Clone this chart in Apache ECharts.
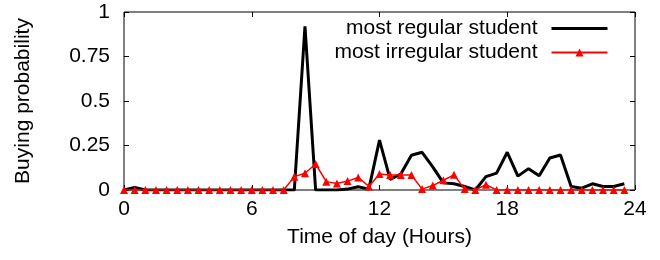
<!DOCTYPE html>
<html>
<head>
<meta charset="utf-8">
<script src="https://cdn.jsdelivr.net/npm/echarts@6/dist/echarts.min.js"></script>
<style>
  html, body { margin: 0; padding: 0; background: #fff; }
  #chart { width: 660px; height: 260px; }
</style>
</head>
<body>
<div id="chart"></div>
<script>
// time of day, half-hour slots
const hours = [0, 0.5, 1, 1.5, 2, 2.5, 3, 3.5, 4, 4.5, 5, 5.5, 6, 6.5, 7, 7.5,
  8, 8.5, 9, 9.5, 10, 10.5, 11, 11.5, 12, 12.5, 13, 13.5, 14, 14.5, 15, 15.5,
  16, 16.5, 17, 17.5, 18, 18.5, 19, 19.5, 20, 20.5, 21, 21.5, 22, 22.5, 23, 23.5];

const regularStudent = [0, 0.015, 0, 0, 0, 0, 0, 0, 0, 0, 0, 0, 0, 0, 0, 0,
  0, 0.92, 0, 0, 0, 0.005, 0.018, 0.005, 0.28, 0.06, 0.09, 0.195, 0.212, 0.13, 0.04, 0.035,
  0.02, 0, 0.075, 0.095, 0.212, 0.078, 0.12, 0.08, 0.18, 0.197, 0.02, 0.01, 0.035, 0.02, 0.02, 0.035];

const irregularStudent = [0, 0, 0, 0, 0, 0, 0, 0, 0, 0, 0, 0, 0, 0, 0, 0,
  0.075, 0.094, 0.146, 0.047, 0.037, 0.05, 0.07, 0.02, 0.09, 0.084, 0.084, 0.084, 0.005, 0.025, 0.055, 0.085,
  0.005, 0, 0.03, 0, 0, 0, 0, 0, 0, 0, 0, 0, 0, 0, 0, 0];

const xTicks = [0, 6, 12, 18, 24];
const yTicks = [0, 0.25, 0.5, 0.75, 1];

const font = "'Liberation Sans', Arial, sans-serif";
const fs = 21;
const pairs = vals => hours.map((h, i) => [h, vals[i]]);

const chart = echarts.init(document.getElementById("chart"));

// gnuplot-ish frame: ticks inside, mirrored on top/right
const frameAxis = {
  axisLine: { show: false, onZero: false },
  axisTick: { show: true, inside: true, length: 5, lineStyle: { color: "#000" } },
  splitLine: { show: false }
};

const option = {
  animation: false,
  textStyle: { fontFamily: font },
  grid: { left: 124, right: 25, top: 12, bottom: 70, show: true,
    borderColor: "#000", borderWidth: 1, backgroundColor: "transparent" },
  legend: {
    orient: "vertical",
    right: 46,
    top: 13,
    align: "right",
    itemWidth: 56,
    itemHeight: 10,
    itemGap: 3,
    textStyle: { fontFamily: font, fontSize: fs, color: "#000", padding: [0, 9, 0, 0] },
    data: [
      { name: "most regular student", itemStyle: { opacity: 0 }, lineStyle: { width: 3 } },
      { name: "most irregular student" }
    ]
  },
  xAxis: [
    {
      type: "value", min: 0, max: 24, interval: 6,
      name: "Time of day (Hours)", nameLocation: "middle", nameGap: 37,
      nameTextStyle: { fontSize: fs, color: "#000", fontFamily: font },
      axisLabel: { fontSize: fs, color: "#000", margin: 9, fontFamily: font,
        formatter: v => xTicks.includes(v) ? String(v) : "" },
      ...frameAxis
    },
    {
      type: "value", min: 0, max: 24, interval: 6, position: "top",
      axisLabel: { show: false }, ...frameAxis
    }
  ],
  yAxis: [
    {
      type: "value", min: 0, max: 1, interval: 0.25,
      name: "Buying probability", nameLocation: "middle", nameGap: 90,
      nameTextStyle: { fontSize: fs, color: "#000", fontFamily: font },
      axisLabel: { fontSize: fs, color: "#000", margin: 14, fontFamily: font,
        formatter: v => yTicks.includes(v) ? String(v) : "" },
      ...frameAxis
    },
    {
      type: "value", min: 0, max: 1, interval: 0.25, position: "right",
      axisLabel: { show: false }, ...frameAxis
    }
  ],
  series: [
    {
      name: "most regular student",
      type: "line",
      data: pairs(regularStudent),
      showSymbol: false,
      symbol: "none",
      lineStyle: { color: "#000", width: 3 },
      itemStyle: { color: "#000" }
    },
    {
      name: "most irregular student",
      type: "line",
      data: pairs(irregularStudent),
      symbol: "triangle",
      symbolSize: 8,
      lineStyle: { color: "#ff0000", width: 1.5 },
      itemStyle: { color: "#ff0000" }
    }
  ]
};

chart.setOption(option);
</script>
</body>
</html>
